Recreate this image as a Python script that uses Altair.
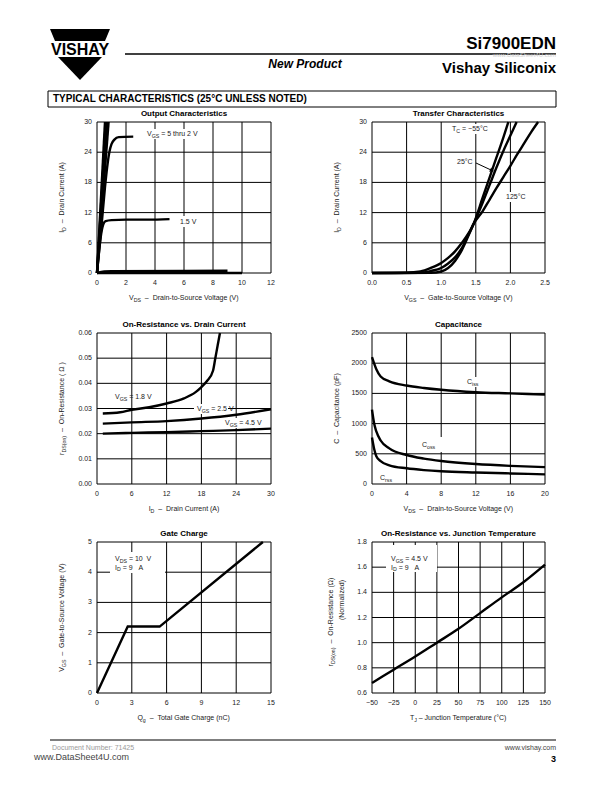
import altair as alt
import pandas as pd

FONT = "Liberation Sans"
TC = "#1a1a1a"
OFF = 8  # page margin

# ---------------- data ----------------
# Output Characteristics: V_DS (V) vs I_D (A)
OUT_X_TICKS = [0, 2, 4, 6, 8, 10, 12]
OUT_X_LABELS = ["0", "2", "4", "6", "8", "10", "12"]
OUT_Y_TICKS = [0, 6, 12, 18, 24, 30]
OUT_Y_LABELS = ["0", "6", "12", "18", "24", "30"]
OUT_V5_X = [0, 0.55]
OUT_V5_Y = [0, 30]
OUT_V4_X = [0, 0.62]
OUT_V4_Y = [0, 30]
OUT_V3_X = [0, 0.70]
OUT_V3_Y = [0, 30]
OUT_V25_X = [0, 0.80]
OUT_V25_Y = [0, 30]
OUT_V2_X = [0, 0.3, 0.55, 0.7, 0.85, 1.0, 1.2, 1.5, 2.5]
OUT_V2_Y = [0, 9, 17, 21, 24, 25.6, 26.5, 27, 27.1]
OUT_V15_X = [0, 0.15, 0.3, 0.45, 0.6, 1.0, 2.0, 3.5, 5.0]
OUT_V15_Y = [0, 4.5, 8, 9.8, 10.3, 10.5, 10.6, 10.6, 10.7]
OUT_V1_X = [0, 0.5, 1.0, 9.0]
OUT_V1_Y = [0, 0.3, 0.35, 0.45]
OUT_V05_X = [0, 10]
OUT_V05_Y = [0, 0]

# Transfer Characteristics: V_GS (V) vs I_D (A)
TR_X_TICKS = [0, 0.5, 1.0, 1.5, 2.0, 2.5]
TR_X_LABELS = ["0.0", "0.5", "1.0", "1.5", "2.0", "2.5"]
TR_Y_TICKS = [0, 6, 12, 18, 24, 30]
TR_Y_LABELS = ["0", "6", "12", "18", "24", "30"]
TR_125_X = [0, 0.5, 0.7, 0.85, 1.0, 1.1, 1.2, 1.3, 1.4, 1.47, 1.6, 1.7, 1.8, 1.9, 2.0, 2.1, 2.2, 2.3, 2.4]
TR_125_Y = [0, 0.05, 0.3, 1.0, 2.0, 3.0, 4.3, 6.0, 8.0, 9.8, 12.3, 14.6, 16.9, 19.1, 21.3, 23.6, 25.8, 28.0, 30]
TR_25_X = [0, 0.7, 0.85, 1.0, 1.1, 1.2, 1.3, 1.4, 1.47, 1.6, 1.7, 1.8, 1.9, 2.0, 2.09]
TR_25_Y = [0, 0.05, 0.4, 1.0, 1.9, 3.1, 5.0, 7.8, 9.8, 14.0, 17.5, 21.0, 24.3, 27.3, 30]
TR_M55_X = [0, 0.85, 1.0, 1.1, 1.2, 1.3, 1.4, 1.47, 1.6, 1.7, 1.8, 1.9, 1.97]
TR_M55_Y = [0, 0.05, 0.3, 1.0, 2.4, 4.6, 7.6, 9.8, 15.0, 19.0, 23.0, 27.0, 30]

# On-Resistance vs. Drain Current: I_D (A) vs r_DS(on) (ohm)
RD_X_TICKS = [0, 6, 12, 18, 24, 30]
RD_X_LABELS = ["0", "6", "12", "18", "24", "30"]
RD_Y_TICKS = [0, 0.01, 0.02, 0.03, 0.04, 0.05, 0.06]
RD_Y_LABELS = ["0.00", "0.01", "0.02", "0.03", "0.04", "0.05", "0.06"]
RD_18_X = [1, 4, 6, 9, 12, 15, 17, 18, 19, 20, 20.4, 20.8, 21.2]
RD_18_Y = [0.028, 0.0285, 0.0295, 0.0305, 0.032, 0.034, 0.0365, 0.0385, 0.041, 0.045, 0.05, 0.055, 0.06]
RD_25_X = [1, 6, 12, 18, 24, 30]
RD_25_Y = [0.024, 0.0245, 0.025, 0.026, 0.0275, 0.0297]
RD_45_X = [1, 6, 12, 18, 24, 30]
RD_45_Y = [0.020, 0.0203, 0.0206, 0.021, 0.0214, 0.022]

# Capacitance: V_DS (V) vs C (pF)
CP_X_TICKS = [0, 4, 8, 12, 16, 20]
CP_X_LABELS = ["0", "4", "8", "12", "16", "20"]
CP_Y_TICKS = [0, 500, 1000, 1500, 2000, 2500]
CP_Y_LABELS = ["0", "500", "1000", "1500", "2000", "2500"]
CISS_X = [0, 0.5, 1, 2, 4, 6, 8, 12, 16, 20]
CISS_Y = [2100, 1900, 1780, 1700, 1630, 1590, 1560, 1520, 1500, 1480]
COSS_X = [0, 0.25, 0.5, 1, 2, 4, 6, 8, 12, 16, 20]
COSS_Y = [1230, 1000, 870, 720, 590, 480, 420, 380, 330, 300, 280]
CRSS_X = [0, 0.25, 0.5, 1, 2, 4, 6, 8, 12, 16, 20]
CRSS_Y = [770, 580, 460, 380, 310, 260, 230, 210, 190, 175, 160]

# Gate Charge: Q_g (nC) vs V_GS (V)
GC_X_TICKS = [0, 3, 6, 9, 12, 15]
GC_X_LABELS = ["0", "3", "6", "9", "12", "15"]
GC_Y_TICKS = [0, 1, 2, 3, 4, 5]
GC_Y_LABELS = ["0", "1", "2", "3", "4", "5"]
GC_X = [0, 2.65, 5.4, 14.3]
GC_Y = [0, 2.2, 2.2, 5.0]

# On-Resistance vs. Junction Temperature
TJ_X_TICKS = [-50, -25, 0, 25, 50, 75, 100, 125, 150]
TJ_X_LABELS = ["\u221250", "\u221225", "0", "25", "50", "75", "100", "125", "150"]
TJ_Y_TICKS = [0.6, 0.8, 1.0, 1.2, 1.4, 1.6, 1.8]
TJ_Y_LABELS = ["0.6", "0.8", "1.0", "1.2", "1.4", "1.6", "1.8"]
TJ_X = [-50, -25, 0, 25, 50, 75, 100, 125, 150]
TJ_Y = [0.68, 0.785, 0.89, 1.0, 1.11, 1.235, 1.36, 1.48, 1.62]

# ---------------- helpers ----------------
ONE = pd.DataFrame({"k": [0]})

AW = {' ': 278, '\u00a0': 278, '!': 278, '(': 333, ')': 333, '-': 333, '.': 278, ',': 278, ':': 278,
      '=': 584, '\u00b0': 400, '\u2013': 556, '\u2212': 584, '\u03a9': 768, '/': 278,
      'A': 667, 'B': 667, 'C': 722, 'D': 722, 'E': 667, 'F': 611, 'G': 778, 'H': 722, 'I': 278,
      'J': 500, 'K': 667, 'L': 556, 'M': 833, 'N': 722, 'O': 778, 'P': 667, 'Q': 778, 'R': 722,
      'S': 667, 'T': 611, 'U': 722, 'V': 667, 'W': 944, 'X': 667, 'Y': 667, 'Z': 611,
      'a': 556, 'b': 556, 'c': 500, 'd': 556, 'e': 556, 'f': 278, 'g': 556, 'h': 556, 'i': 222,
      'j': 222, 'k': 500, 'l': 222, 'm': 833, 'n': 556, 'o': 556, 'p': 556, 'q': 556, 'r': 333,
      's': 500, 't': 278, 'u': 556, 'v': 500, 'w': 722, 'x': 500, 'y': 500, 'z': 500}


def tw(s, size):
    return sum(AW.get(c, 556) for c in s) * size / 1000.0


def txt(s, x, y, size=7, align="left", baseline="middle", angle=0, color=TC,
        weight="normal", style="normal", font=FONT):
    return alt.Chart(pd.DataFrame({"t": [s]})).mark_text(
        align=align, baseline=baseline, fontSize=size, angle=angle, color=color,
        fontWeight=weight, fontStyle=style, font=font
    ).encode(x=alt.value(x - OFF), y=alt.value(y - OFF), text="t:N")


def rich(segs, x, y, size=7, anchor="start", angle=0, color=TC):
    """Text with subscripts, built from consecutive text marks."""
    sub = round(size * 0.75, 2)
    ws = [tw(t, sub if k == "s" else size) for t, k in segs]
    tot = sum(ws)
    pos = {"start": 0.0, "middle": -tot / 2.0, "end": -tot}[anchor]
    base = size * 0.35
    out = []
    for (t, k), w in zip(segs, ws):
        fs = sub if k == "s" else size
        dn = base + (size * 0.22 if k == "s" else 0)
        lead = len(t) - len(t.lstrip(" "))
        body = t.strip(" ").replace(" ", "\u00a0")
        p = pos + tw(" " * lead, fs)
        if angle == 0:
            px, py = x + p, y + dn
        else:
            px, py = x + dn, y - p
        out.append(txt(body, px, py, fs, align="left", baseline="alphabetic", angle=angle, color=color))
        pos += w
    return out


def box(x1, y1, x2, y2, fill="white", stroke="white", sw=0, fo=1):
    return alt.Chart(ONE).mark_rect(fill=fill, fillOpacity=fo, stroke=stroke, strokeWidth=sw).encode(
        x=alt.value(x1 - OFF), x2=alt.value(x2 - OFF), y=alt.value(y1 - OFF), y2=alt.value(y2 - OFF))


def seg(x1, y1, x2, y2, sw=1, color="black"):
    return alt.Chart(ONE).mark_rule(color=color, strokeWidth=sw).encode(
        x=alt.value(x1 - OFF), x2=alt.value(x2 - OFF), y=alt.value(y1 - OFF), y2=alt.value(y2 - OFF))


def sym(path, x, y, size, angle=0):
    return alt.Chart(ONE).mark_point(shape=path, size=size, filled=True, color="black",
                                     opacity=1, strokeWidth=0, angle=angle).encode(
        x=alt.value(x - OFF), y=alt.value(y - OFF))


def panel(x0, y0, w, h, xdom, ydom, xt, xl, yt, yl, curves, bgs=()):
    X0, Y0 = x0 - OFF, y0 - OFF
    xs = alt.Scale(domain=xdom, range=[X0, X0 + w], nice=False, zero=False)
    ys = alt.Scale(domain=ydom, range=[Y0 + h, Y0], nice=False, zero=False)
    L = []
    L.append(alt.Chart(pd.DataFrame({"v": xt})).mark_rule(color="black", strokeWidth=1).encode(
        x=alt.X("v:Q", scale=xs, axis=None),
        y=alt.YDatum(ydom[0], type="quantitative", scale=ys, axis=None),
        y2=alt.Y2Datum(ydom[1])))
    L.append(alt.Chart(pd.DataFrame({"v": yt})).mark_rule(color="black", strokeWidth=1).encode(
        y=alt.Y("v:Q", scale=ys, axis=None),
        x=alt.XDatum(xdom[0], type="quantitative", scale=xs, axis=None),
        x2=alt.X2Datum(xdom[1])))
    for b in bgs:
        L.append(box(*b))
    for cx, cy, interp in curves:
        df = pd.DataFrame({"x": cx, "y": cy, "i": list(range(len(cx)))})
        L.append(alt.Chart(df).mark_line(color="black", strokeWidth=2.4, interpolate=interp).encode(
            x=alt.X("x:Q", scale=xs, axis=None),
            y=alt.Y("y:Q", scale=ys, axis=None),
            order="i:Q"))
    L.append(alt.Chart(pd.DataFrame({"v": xt, "t": xl})).mark_text(
        font=FONT, fontSize=7, align="center", baseline="middle", color=TC).encode(
        x=alt.X("v:Q", scale=xs, axis=None), y=alt.value(Y0 + h + 10), text="t:N"))
    L.append(alt.Chart(pd.DataFrame({"v": yt, "t": yl})).mark_text(
        font=FONT, fontSize=7, align="right", baseline="middle", color=TC).encode(
        y=alt.Y("v:Q", scale=ys, axis=None), x=alt.value(X0 - 5), text="t:N"))
    return alt.layer(*L)


# ---------------- geometry (page px) ----------------
LX, RX = 97, 372
LW, RW = 174, 173
R1, R2, R3 = 122, 333, 542
H = 151

layers = []

# ---- header ----
layers.append(sym("M-1,-0.2L1,-0.2L0.833,0.2L-0.833,0.2Z", 80, 35, 3600))
layers.append(txt("VISHAY", 80, 49.5, 16, align="center", weight="bold", color="black"))
layers.append(sym("M-0.733,-0.383L0.733,-0.383L0,0.383Z", 80, 68.5, 3600))
layers.append(txt("Si7900EDN", 556, 44, 17, align="right", weight="bold", color="black"))
layers.append(seg(125, 54, 556, 54, sw=1.3))
layers.append(txt("New Product", 305, 64, 12, align="center", weight="bold", style="italic", color="black"))
layers.append(txt("www.DataSheet4U.com", 556, 55, 6, align="right", color="#d0d0d0"))
layers.append(txt("Vishay Siliconix", 556, 67.5, 15, align="right", weight="bold", color="black"))
layers.append(box(48, 91, 556, 107, fill="white", stroke="black", sw=1, fo=0))
layers.append(txt("TYPICAL CHARACTERISTICS (25\u00b0C UNLESS NOTED)", 53, 99, 10, weight="bold", color="black"))

# ---- panel 1: Output Characteristics ----
layers.append(panel(LX, R1, LW, H, [0, 12], [0, 30], OUT_X_TICKS, OUT_X_LABELS, OUT_Y_TICKS, OUT_Y_LABELS,
                    [(OUT_V05_X, OUT_V05_Y, "linear"), (OUT_V1_X, OUT_V1_Y, "monotone"),
                     (OUT_V15_X, OUT_V15_Y, "monotone"), (OUT_V2_X, OUT_V2_Y, "monotone"),
                     (OUT_V25_X, OUT_V25_Y, "linear"), (OUT_V3_X, OUT_V3_Y, "linear"),
                     (OUT_V4_X, OUT_V4_Y, "linear"), (OUT_V5_X, OUT_V5_Y, "linear")],
                    bgs=[(145, 129, 203, 139), (177, 216, 195, 227)]))
layers += rich([("V", "n"), ("GS", "s"), (" = 5 thru 2 V", "n")], 147, 134)
layers.append(txt("1.5 V", 180, 221.5, 7))
layers.append(txt("Output Characteristics", LX + LW / 2, R1 - 8.5, 8, align="center", weight="bold", color="black"))
layers += rich([("V", "n"), ("DS", "s"), ("  \u2013  Drain-to-Source Voltage (V)", "n")], LX + LW / 2, R1 + H + 25, anchor="middle")
layers += rich([("I", "n"), ("D", "s"), ("  \u2013  Drain Current (A)", "n")], 62, R1 + H / 2, anchor="middle", angle=270)

# ---- panel 2: Transfer Characteristics ----
layers.append(panel(RX, R1, RW, H, [0, 2.5], [0, 30], TR_X_TICKS, TR_X_LABELS, TR_Y_TICKS, TR_Y_LABELS,
                    [(TR_125_X, TR_125_Y, "monotone"), (TR_25_X, TR_25_Y, "monotone"),
                     (TR_M55_X, TR_M55_Y, "monotone")],
                    bgs=[(450, 124, 494, 134), (455, 157, 475, 167), (503, 192, 521, 202)]))
layers += rich([("T", "n"), ("C", "s"), (" = \u221255\u00b0C", "n")], 452, 129)
layers.append(txt("25\u00b0C", 457, 162, 7))
layers.append(seg(476, 163, 491, 170, sw=1))
layers.append(sym("triangle-right", 492, 170.5, 22, angle=25))
layers.append(txt("125\u00b0C", 506, 197, 7))
layers.append(txt("Transfer Characteristics", RX + RW / 2, R1 - 8.5, 8, align="center", weight="bold", color="black"))
layers += rich([("V", "n"), ("GS", "s"), ("  \u2013  Gate-to-Source Voltage (V)", "n")], RX + RW / 2, R1 + H + 25, anchor="middle")
layers += rich([("I", "n"), ("D", "s"), ("  \u2013  Drain Current (A)", "n")], 337, R1 + H / 2, anchor="middle", angle=270)

# ---- panel 3: On-Resistance vs. Drain Current ----
layers.append(panel(LX, R2, LW, H, [0, 30], [0, 0.06], RD_X_TICKS, RD_X_LABELS, RD_Y_TICKS, RD_Y_LABELS,
                    [(RD_18_X, RD_18_Y, "monotone"), (RD_25_X, RD_25_Y, "monotone"),
                     (RD_45_X, RD_45_Y, "monotone")],
                    bgs=[(194, 404, 228, 414), (222, 418, 255, 428)]))
layers += rich([("V", "n"), ("GS", "s"), (" = 1.8 V", "n")], 115, 397)
layers += rich([("V", "n"), ("GS", "s"), (" = 2.5 V", "n")], 197, 409)
layers += rich([("V", "n"), ("GS", "s"), (" = 4.5 V", "n")], 225, 423)
layers.append(txt("On-Resistance vs. Drain Current", LX + LW / 2, R2 - 8.5, 8, align="center", weight="bold", color="black"))
layers += rich([("I", "n"), ("D", "s"), ("  \u2013  Drain Current (A)", "n")], LX + LW / 2, R2 + H + 25, anchor="middle")
layers += rich([("r", "n"), ("DS(on)", "s"), ("  \u2013  On-Resistance ( \u03a9 )", "n")], 62, R2 + H / 2, anchor="middle", angle=270)

# ---- panel 4: Capacitance ----
layers.append(panel(RX, R2, RW, H, [0, 20], [0, 2500], CP_X_TICKS, CP_X_LABELS, CP_Y_TICKS, CP_Y_LABELS,
                    [(CISS_X, CISS_Y, "monotone"), (COSS_X, COSS_Y, "monotone"), (CRSS_X, CRSS_Y, "monotone")],
                    bgs=[(464, 377, 482, 387), (418, 437, 443, 452)]))
layers += rich([("C", "n"), ("iss", "s")], 467, 382)
layers += rich([("C", "n"), ("oss", "s")], 422, 445)
layers += rich([("C", "n"), ("rss", "s")], 380, 478)
layers.append(txt("Capacitance", RX + RW / 2, R2 - 8.5, 8, align="center", weight="bold", color="black"))
layers += rich([("V", "n"), ("DS", "s"), ("  \u2013  Drain-to-Source Voltage (V)", "n")], RX + RW / 2, R2 + H + 25, anchor="middle")
layers += rich([("C  \u2013  Capacitance (pF)", "n")], 337, R2 + H / 2, anchor="middle", angle=270)

# ---- panel 5: Gate Charge ----
layers.append(panel(LX, R3, LW, H, [0, 15], [0, 5], GC_X_TICKS, GC_X_LABELS, GC_Y_TICKS, GC_Y_LABELS,
                    [(GC_X, GC_Y, "linear")],
                    bgs=[(110, 552, 165, 573)]))
layers += rich([("V", "n"), ("DS", "s"), (" = 10  V", "n")], 115, 559)
layers += rich([("I", "n"), ("D", "s"), (" = 9   A", "n")], 115, 567.5)
layers.append(txt("Gate Charge", LX + LW / 2, R3 - 8.5, 8, align="center", weight="bold", color="black"))
layers += rich([("Q", "n"), ("g", "s"), ("  \u2013  Total Gate Charge (nC)", "n")], LX + LW / 2, R3 + H + 25, anchor="middle")
layers += rich([("V", "n"), ("GS", "s"), ("  \u2013  Gate-to-Source Voltage (V)", "n")], 62, R3 + H / 2, anchor="middle", angle=270)

# ---- panel 6: On-Resistance vs. Junction Temperature ----
layers.append(panel(RX, R3, RW, H, [-50, 150], [0.6, 1.8], TJ_X_TICKS, TJ_X_LABELS, TJ_Y_TICKS, TJ_Y_LABELS,
                    [(TJ_X, TJ_Y, "monotone")],
                    bgs=[(386, 545, 437, 572)]))
layers += rich([("V", "n"), ("GS", "s"), (" = 4.5 V", "n")], 391, 559)
layers += rich([("I", "n"), ("D", "s"), (" = 9   A", "n")], 391, 567.5)
layers.append(txt("On-Resistance vs. Junction Temperature", RX + RW / 2, R3 - 8.5, 8, align="center", weight="bold", color="black"))
layers += rich([("T", "n"), ("J", "s"), (" \u2013 Junction Temperature (\u00b0C)", "n")], RX + RW / 2, R3 + H + 25, anchor="middle")
layers += rich([("r", "n"), ("DS(on)", "s"), ("  \u2013  On-Resistance (\u03a9)", "n")], 331, 622, anchor="middle", angle=270)
layers.append(txt("(Normalized)", 342, 600, 7, align="center", angle=270))

# ---- footer ----
layers.append(seg(50, 740, 556, 740, sw=1.2))
layers.append(txt("Document Number:  71425", 52, 748, 7, color="#9a9a9a"))
layers.append(txt("www.DataSheet4U.com", 34, 757, 9, color="#444444"))
layers.append(txt("www.vishay.com", 556, 748, 7, align="right", color="#444444"))
layers.append(txt("3", 556, 759, 9, align="right", weight="bold", color="black"))

chart = alt.layer(*layers).properties(
    width=596, height=776, padding=0,
    autosize=alt.AutoSizeParams(type="none"), background="white"
).resolve_scale(x="independent", y="independent").configure_view(stroke=None)

chart.save("out.html", embed_options={"renderer": "svg", "actions": False})
